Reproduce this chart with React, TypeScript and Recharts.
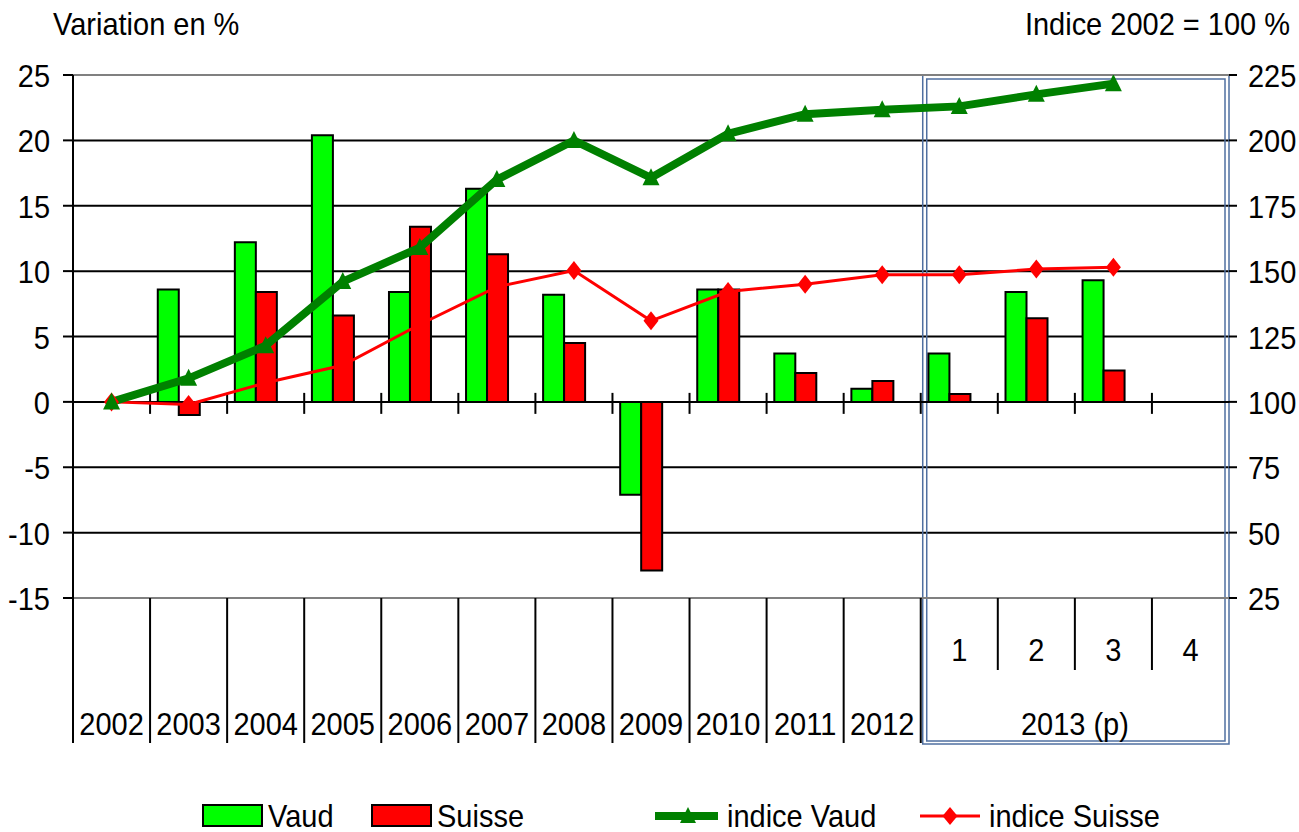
import React from 'react';
import {
  ComposedChart,
  Bar,
  Line,
  XAxis,
  YAxis,
  CartesianGrid,
  ReferenceLine,
  ReferenceArea,
  Legend,
} from 'recharts';

const categories = ['2002', '2003', '2004', '2005', '2006', '2007', '2008', '2009', '2010', '2011', '2012', '1', '2', '3', '4'];
const periodGroups = ['2002', '2003', '2004', '2005', '2006', '2007', '2008', '2009', '2010', '2011', '2012', '2013 (p)', '2013 (p)', '2013 (p)', '2013 (p)'];
const vaudVariation = [null, 8.6, 12.2, 20.4, 8.4, 16.3, 8.2, -7.1, 8.6, 3.7, 1.0, 3.7, 8.4, 9.3, null];
const suisseVariation = [null, -1.0, 8.4, 6.6, 13.4, 11.3, 4.5, -12.9, 8.6, 2.2, 1.6, 0.6, 6.4, 2.4, null];
const indiceVaud = [100, 109, 121.5, 146, 159, 185, 200, 185.7, 202.5, 210, 211.7, 213, 217.6, 221.7, null];
const indiceSuisse = [100, 99, 107.3, 114, 129.6, 144, 150.2, 131, 142.2, 145, 148.6, 148.6, 150.8, 151.5, null];
const leftTicks = [-15, -10, -5, 0, 5, 10, 15, 20, 25];
const rightTicks = [25, 50, 75, 100, 125, 150, 175, 200, 225];
const leftTitle = 'Variation en %';
const rightTitle = 'Indice 2002 = 100 %';

const data = categories.map((c, i) => ({
  cat: c,
  vaud: vaudVariation[i],
  suisse: suisseVariation[i],
  iv: indiceVaud[i],
  is: indiceSuisse[i],
}));

const FONT = '"Liberation Sans", Arial, Helvetica, sans-serif';
const FS = 29;
const SY = 1.1;
const W = 1299;
const H = 832;
const GREEN = '#00FF00';
const RED = '#FF0000';
const DKGREEN = '#008000';
const BOX = '#4F6FA0';

function T(props: { x: number; y: number; anchor?: 'start' | 'middle' | 'end'; children: any }) {
  const { x, y, anchor = 'start', children } = props;
  return (
    <text
      transform={`translate(${x},${y}) scale(1,${SY})`}
      x={0}
      y={0}
      textAnchor={anchor}
      fontFamily={FONT}
      fontSize={FS}
      fill="#000"
    >
      {children}
    </text>
  );
}

function XTick(props: any) {
  const { x, y, payload, index } = props;
  const half = payload && typeof payload.offset === 'number' ? payload.offset : 0;
  const left = x - half;
  const cat = categories[index];
  const group = periodGroups[index];
  const firstOfGroup = index === 0 || periodGroups[index - 1] !== group;
  const groupSize = periodGroups.filter((g) => g === group).length;
  const sub = groupSize > 1;
  return (
    <g>
      <line x1={left} x2={left} y1={y} y2={y + (sub && !firstOfGroup ? 72 : 145)} stroke="#000" strokeWidth={2} />
      {sub && (
        <T x={x} y={y + 63} anchor="middle">
          {cat}
        </T>
      )}
      {firstOfGroup && (
        <T x={left + groupSize * half} y={y + 137} anchor="middle">
          {group}
        </T>
      )}
    </g>
  );
}

function YTick(props: any) {
  const { x, y, payload, textAnchor } = props;
  return (
    <T x={x} y={y + 12} anchor={textAnchor}>
      {payload.value}
    </T>
  );
}

function ZeroLine(props: any) {
  const { x1, x2, y1 } = props;
  const n = categories.length;
  const step = (x2 - x1) / n;
  return (
    <g>
      <line x1={x1} x2={x2} y1={y1} y2={y1} stroke="#000" strokeWidth={2} />
      {categories.slice(1).map((_, i) => (
        <line key={i} x1={x1 + step * (i + 1)} x2={x1 + step * (i + 1)} y1={y1 - 9} y2={y1 + 12} stroke="#000" strokeWidth={2} />
      ))}
    </g>
  );
}

function PeriodBox(props: any) {
  const { x, y, width, height } = props;
  const ext = 146;
  return (
    <g fill="none" stroke={BOX} strokeWidth={1.5}>
      <rect x={x + 2} y={y} width={width - 2} height={height + ext} />
      <rect x={x + 6} y={y + 4} width={width - 10} height={height + ext - 7} />
    </g>
  );
}

const triangleDot = (p: any) => {
  const { cx, cy, index } = p;
  if (cx == null || cy == null || p.value == null) return <g key={`t${index}`} />;
  return <path key={`t${index}`} d={`M${cx},${cy - 9.5} L${cx + 8.5},${cy + 7.5} L${cx - 8.5},${cy + 7.5} Z`} fill={DKGREEN} />;
};

const diamondDot = (p: any) => {
  const { cx, cy, index } = p;
  if (cx == null || cy == null || p.value == null) return <g key={`d${index}`} />;
  return <path key={`d${index}`} d={`M${cx},${cy - 9.5} L${cx + 7.5},${cy} L${cx},${cy + 9.5} L${cx - 7.5},${cy} Z`} fill={RED} />;
};

const legendLeft: Record<string, number> = { vaud: 203, suisse: 372, iv: 658, is: 920 };

function LegendContent(props: any) {
  const items = (props.payload || []).filter((e: any) => e.type !== 'none' && legendLeft[e.dataKey] != null);
  return (
    <svg width={W} height={37} style={{ display: 'block' }}>
      {items.map((e: any) => {
        const x0 = legendLeft[e.dataKey];
        const isLine = e.dataKey === 'iv' || e.dataKey === 'is';
        if (!isLine) {
          return (
            <g key={e.dataKey}>
              <rect x={x0} y={10} width={59} height={21} fill={e.dataKey === 'vaud' ? GREEN : RED} stroke="#000" strokeWidth={2} />
              <T x={x0 + 65} y={32}>
                {e.value}
              </T>
            </g>
          );
        }
        const cx = x0 + 30;
        const cy = 21;
        return (
          <g key={e.dataKey}>
            {e.dataKey === 'iv' ? (
              <>
                <line x1={x0 - 3} x2={x0 + 60} y1={cy} y2={cy} stroke={DKGREEN} strokeWidth={8} />
                <path d={`M${cx},${cy - 9} L${cx + 8},${cy + 7} L${cx - 8},${cy + 7} Z`} fill={DKGREEN} />
              </>
            ) : (
              <>
                <line x1={x0} x2={x0 + 60} y1={cy} y2={cy} stroke={RED} strokeWidth={3} />
                <path d={`M${cx},${cy - 9} L${cx + 7.5},${cy} L${cx},${cy + 9} L${cx - 7.5},${cy} Z`} fill={RED} />
              </>
            )}
            <T x={x0 + 69} y={32}>
              {e.value}
            </T>
          </g>
        );
      })}
    </svg>
  );
}

export default function App() {
  return (
    <div style={{ position: 'absolute', left: 0, top: 0, width: W, height: H, background: '#fff' }}>
      <ComposedChart
        width={W}
        height={H}
        data={data}
        margin={{ top: 75, right: 10, left: 13, bottom: 0 }}
        barCategoryGap="10%"
        barGap={0}
      >
        <CartesianGrid yAxisId="left" vertical={false} stroke="#000" strokeWidth={2} />
        <XAxis
          dataKey="cat"
          height={234}
          interval={0}
          tickSize={0}
          tickMargin={0}
          tickLine={false}
          axisLine={{ stroke: '#808080', strokeWidth: 2 }}
          tick={<XTick />}
        />
        <YAxis
          yAxisId="left"
          orientation="left"
          width={60}
          domain={[-15, 25]}
          ticks={leftTicks}
          interval={0}
          allowDataOverflow
          tickSize={10}
          tickMargin={13}
          axisLine={{ stroke: '#000', strokeWidth: 2 }}
          tickLine={{ stroke: '#000', strokeWidth: 2 }}
          tick={<YTick />}
        />
        <YAxis
          yAxisId="right"
          orientation="right"
          width={60}
          domain={[25, 225]}
          ticks={rightTicks}
          interval={0}
          allowDataOverflow
          tickSize={8}
          tickMargin={11}
          axisLine={false}
          tickLine={{ stroke: '#000', strokeWidth: 2 }}
          tick={<YTick />}
        />
        <ReferenceLine yAxisId="left" y={25} stroke="#808080" strokeWidth={2} />
        <ReferenceLine yAxisId="left" y={0} shape={ZeroLine} />
        <Bar yAxisId="left" dataKey="vaud" name="Vaud" fill={GREEN} stroke="#000" strokeWidth={2} isAnimationActive={false} />
        <Bar yAxisId="left" dataKey="suisse" name="Suisse" fill={RED} stroke="#000" strokeWidth={2} isAnimationActive={false} />
        <Bar yAxisId="left" dataKey="blank" name="" legendType="none" fill="none" isAnimationActive={false} />
        <Line
          yAxisId="right"
          dataKey="is"
          name="indice Suisse"
          type="linear"
          stroke={RED}
          strokeWidth={3}
          dot={diamondDot}
          activeDot={false}
          isAnimationActive={false}
        />
        <Line
          yAxisId="right"
          dataKey="iv"
          name="indice Vaud"
          type="linear"
          stroke={DKGREEN}
          strokeWidth={8}
          dot={triangleDot}
          activeDot={false}
          isAnimationActive={false}
        />
        <ReferenceArea yAxisId="left" x1="1" x2="4" shape={PeriodBox} />
        <Legend
          verticalAlign="middle"
          layout="horizontal"
          align="center"
          content={<LegendContent />}
          wrapperStyle={{ top: 795, left: 0, width: W, height: 37 }}
        />
      </ComposedChart>
      <svg width={W} height={60} style={{ position: 'absolute', left: 0, top: 0, pointerEvents: 'none' }}>
        <T x={53} y={35}>
          {leftTitle}
        </T>
        <T x={1290} y={35} anchor="end">
          {rightTitle}
        </T>
      </svg>
    </div>
  );
}
